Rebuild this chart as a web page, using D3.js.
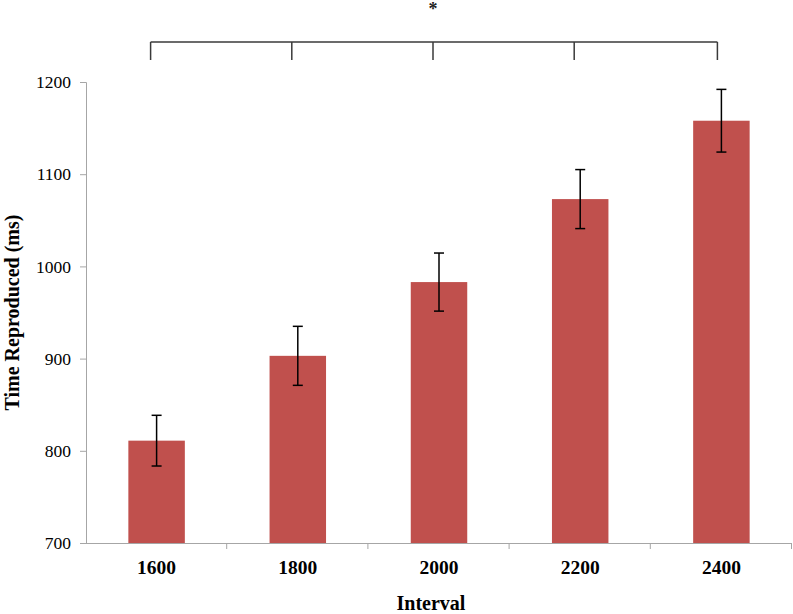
<!DOCTYPE html>
<html>
<head>
<meta charset="utf-8">
<script src="https://cdn.jsdelivr.net/npm/d3@7"></script>
<style>
  html, body { margin: 0; padding: 0; background: #fff; }
  svg { display: block; }
  .ytick text { font-family: "Liberation Serif", "Times New Roman", serif; font-size: 17.5px; fill: #000; }
  .xtick text { font-family: "Liberation Serif", "Times New Roman", serif; font-size: 19.5px; font-weight: bold; fill: #000; }
  .title { font-family: "Liberation Serif", "Times New Roman", serif; font-size: 20px; font-weight: bold; fill: #000; }
</style>
</head>
<body>
<svg id="chart" width="793" height="614"></svg>
<script>
// Reproduced durations per interval (ms), with standard error bars
const intervals = ["1600", "1800", "2000", "2200", "2400"];
const meanTime = [811, 903, 983, 1073, 1158];
const stdErr = [27.5, 32, 31.5, 32, 34];
const yTicks = [700, 800, 900, 1000, 1100, 1200];

(function () {
  const svg = d3.select("#chart");
  const left = 86, right = 792, plotTop = 82, plotBottom = 543;

  const x = d3.scaleBand().domain(intervals).range([left, right]).padding(0);
  const y = d3.scaleLinear().domain([700, 1200]).range([plotBottom, plotTop]);
  const barW = x.bandwidth() * 0.4;

  // y axis
  const yAxis = svg.append("g")
    .attr("class", "ytick")
    .attr("transform", `translate(${left},0)`)
    .call(d3.axisLeft(y).tickValues(yTicks).tickSize(6).tickPadding(9).tickFormat(d3.format("d")));
  yAxis.select(".domain").attr("stroke", "#a6a6a6");
  yAxis.selectAll(".tick line").attr("stroke", "#a6a6a6");

  // bars
  svg.append("g")
    .selectAll("rect")
    .data(intervals)
    .join("rect")
    .attr("x", d => x(d) + (x.bandwidth() - barW) / 2)
    .attr("width", barW)
    .attr("y", (d, i) => y(meanTime[i]))
    .attr("height", (d, i) => y(700) - y(meanTime[i]))
    .attr("fill", "#c0504d");

  // x axis (ticks at band boundaries)
  const xg = svg.append("g").attr("class", "xtick");
  xg.append("line")
    .attr("x1", left).attr("x2", right)
    .attr("y1", plotBottom + 0.5).attr("y2", plotBottom + 0.5)
    .attr("stroke", "#a6a6a6");
  const bounds = intervals.slice(1).map(d => x(d)).concat([right]);
  xg.selectAll("line.bt")
    .data(bounds)
    .join("line")
    .attr("class", "bt")
    .attr("x1", d => d - 0.5)
    .attr("x2", d => d - 0.5)
    .attr("y1", plotBottom)
    .attr("y2", plotBottom + 6)
    .attr("stroke", "#a6a6a6");
  xg.selectAll("text")
    .data(intervals)
    .join("text")
    .attr("x", d => x(d) + x.bandwidth() / 2)
    .attr("y", 574)
    .attr("text-anchor", "middle")
    .text(d => d);

  // error bars
  const eb = svg.append("g").attr("stroke", "#000").attr("stroke-width", 1.5);
  intervals.forEach((d, i) => {
    const cx = x(d) + x.bandwidth() / 2;
    const hi = y(meanTime[i] + stdErr[i]);
    const lo = y(meanTime[i] - stdErr[i]);
    eb.append("line").attr("x1", cx).attr("x2", cx).attr("y1", hi).attr("y2", lo);
    eb.append("line").attr("x1", cx - 5).attr("x2", cx + 5).attr("y1", hi).attr("y2", hi);
    eb.append("line").attr("x1", cx - 5).attr("x2", cx + 5).attr("y1", lo).attr("y2", lo);
  });

  // significance bracket over all conditions
  const last = intervals.length - 1;
  const bx = (d, i) => x(d) + x.bandwidth() / 2 - 6 + (i === last ? 2 : 0);
  const brY = 42, brB = 60;
  const br = svg.append("g").attr("stroke", "#3a3a3a").attr("stroke-width", 1.5).attr("fill", "none");
  br.append("line")
    .attr("x1", bx(intervals[0], 0)).attr("x2", bx(intervals[last], last))
    .attr("y1", brY).attr("y2", brY);
  br.selectAll("line.tk")
    .data(intervals)
    .join("line")
    .attr("class", "tk")
    .attr("x1", (d, i) => bx(d, i))
    .attr("x2", (d, i) => bx(d, i))
    .attr("y1", brY).attr("y2", brB);
  svg.append("text")
    .attr("x", bx(intervals[2], 2))
    .attr("y", 15)
    .attr("text-anchor", "middle")
    .style("font-family", "'Liberation Serif', serif")
    .style("font-size", "18px")
    .style("font-weight", "bold")
    .attr("fill", "#222")
    .text("*");

  // axis titles
  svg.append("text")
    .attr("class", "title")
    .attr("x", (left + right) / 2 - 8)
    .attr("y", 610)
    .attr("text-anchor", "middle")
    .text("Interval");

  svg.append("text")
    .attr("class", "title")
    .attr("transform", `translate(19,${(plotTop + plotBottom) / 2}) rotate(-90)`)
    .attr("text-anchor", "middle")
    .text("Time Reproduced (ms)");
})();
</script>
</body>
</html>
